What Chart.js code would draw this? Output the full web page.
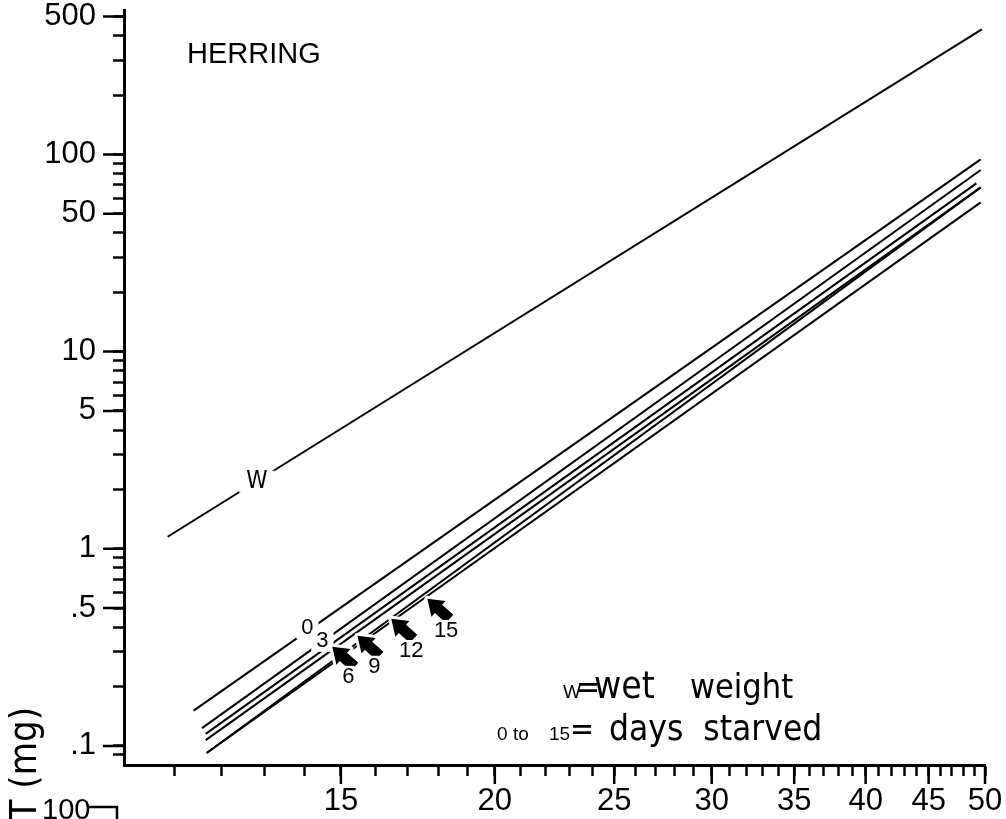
<!DOCTYPE html>
<html>
<head>
<meta charset="utf-8">
<script src="https://cdn.jsdelivr.net/npm/chart.js@4"></script>
<style>
  html, body { margin: 0; padding: 0; background: #fff; }
  #wrap { width: 1006px; height: 819px; position: relative; }
</style>
</head>
<body>
<div id="wrap"><canvas id="myChart"></canvas></div>
<script>
const ctx = document.getElementById("myChart")

// wet weight line (W), read at both ends
const wetLength = [10.85, 49.7]
const wetWeight = [1.15, 431]

// dry weight lines, 0 to 15 days starved, read at both ends
const daysStarved = ['0', '3', '6', '9', '12', '15']
const dryLengthStart = [11.39, 11.57, 11.65, 11.65, 11.67, 11.67]
const dryWeightStart = [0.151, 0.123, 0.115, 0.107, 0.092, 0.092]
const dryLengthEnd = [49.6, 49.6, 49.2, 49.6, 49.6, 49.6]
const dryWeightEnd = [94.3, 83.4, 71.3, 68.0, 68.0, 57.1]

// where the day labels and arrow tips sit (length, weight)
const dayLabelLength = [14.09, 14.49, 15.21, 15.97, 17.11, 18.26]
const dayLabelWeight = [0.397, 0.341, 0.224, 0.252, 0.303, 0.383]
const arrowLength = [null, null, 14.76, 15.47, 16.48, 17.63]
const arrowWeight = [null, null, 0.318, 0.362, 0.441, 0.557]
const wLabelAt = [12.82, 2.19]

// axis ticks
const xLabelTicks = [15, 20, 25, 30, 35, 40, 45, 50]
const xMinorTicks = [11, 12, 13, 14, 16, 17, 18, 19, 21, 22, 23, 24, 26, 27, 28, 29,
  31, 32, 33, 34, 36, 37, 38, 39, 41, 42, 43, 44, 46, 47, 48, 49]
const yLabelTicks = [0.1, 0.5, 1, 5, 10, 50, 100, 500]
const yTickText = ['.1', '.5', '1', '5', '10', '50', '100', '500']
const yMinorTicks = [0.09, 0.2, 0.3, 0.4, 0.6, 0.7, 0.8, 0.9, 2, 3, 4, 6, 7, 8, 9,
  20, 30, 40, 60, 70, 80, 90, 200, 300, 400]

const helv = '"Liberation Sans", Arial, sans-serif'
const avant = '"DejaVu Sans Condensed", "DejaVu Sans", sans-serif'

function boxedText(c, text, x, y, font, pad) {
  c.font = font
  const w = c.measureText(text).width
  c.fillStyle = '#fff'
  c.fillRect(x - w / 2 - pad, y - 11, w + pad * 2, 22)
  c.fillStyle = '#000'
  c.textAlign = 'center'
  c.textBaseline = 'middle'
  c.fillText(text, x, y)
}

function arrow(c, x, y) {
  // tip at x,y, pointing up-left
  c.save()
  c.translate(x, y)
  c.rotate(Math.atan2(-18, -20))
  c.beginPath()
  c.moveTo(0, 0)
  c.lineTo(-15, -10.5)
  c.lineTo(-15, -5.5)
  c.lineTo(-30, -5.5)
  c.lineTo(-30, 5.5)
  c.lineTo(-15, 5.5)
  c.lineTo(-15, 10.5)
  c.closePath()
  c.lineJoin = 'round'
  c.strokeStyle = '#fff'
  c.lineWidth = 6
  c.stroke()
  c.fillStyle = '#000'
  c.fill()
  c.restore()
}

const labelsPlugin = {
  id: 'labels',
  afterDatasetsDraw(chart) {
    const c = chart.ctx
    const xs = chart.scales.x, ys = chart.scales.y
    c.save()
    boxedText(c, 'W', xs.getPixelForValue(wLabelAt[0]), ys.getPixelForValue(wLabelAt[1]), '24px ' + avant, 7)
    daysStarved.forEach((d, i) => {
      if (arrowLength[i] != null) {
        arrow(c, xs.getPixelForValue(arrowLength[i]), ys.getPixelForValue(arrowWeight[i]))
      }
      const pad = i < 2 ? 5 : 0
      boxedText(c, d, xs.getPixelForValue(dayLabelLength[i]), ys.getPixelForValue(dayLabelWeight[i]), '22px ' + helv, pad)
    })
    c.restore()
  },
  afterDraw(chart) {
    const c = chart.ctx
    const a = chart.chartArea
    const xs = chart.scales.x, ys = chart.scales.y
    c.save()
    // longer ticks at the labelled values
    c.strokeStyle = '#000'
    c.lineWidth = 2.5
    c.beginPath()
    xLabelTicks.forEach(v => {
      const p = xs.getPixelForValue(v)
      c.moveTo(p, a.bottom)
      c.lineTo(p, a.bottom + 19)
    })
    yLabelTicks.forEach(v => {
      const p = ys.getPixelForValue(v)
      c.moveTo(a.left, p)
      c.lineTo(a.left - 21, p)
    })
    c.stroke()

    c.fillStyle = '#000'
    c.textBaseline = 'alphabetic'
    c.textAlign = 'left'
    c.font = '29px ' + helv
    c.fillText('HERRING', 187, 63)

    // key
    c.font = '19px ' + helv
    c.fillText('W', 563, 698)
    c.fillText('0', 497, 740)
    c.fillText('to', 513, 740)
    c.fillText('15', 549, 740)
    c.font = '32px ' + avant
    c.fillText('=', 576, 698)
    c.fillText('=', 570, 740)
    c.font = '37px ' + avant
    c.fillText('wet', 594, 698)
    c.font = '34px ' + avant
    c.fillText('weight', 690, 698)
    c.font = '35px ' + avant
    c.fillText('days  starved', 609, 740)

    // axis title, mostly cut off by the page edge
    c.save()
    c.translate(36, 707)
    c.rotate(-Math.PI / 2)
    c.textAlign = 'right'
    c.font = '38px ' + avant
    c.fillText('WEIGHT (mg)', 0, 0)
    c.restore()

    // top of the next panel below
    c.font = '29px ' + helv
    c.fillText('100', 42, 819)
    c.lineWidth = 2.5
    c.beginPath()
    c.moveTo(88, 807)
    c.lineTo(117, 807)
    c.lineTo(117, 819)
    c.stroke()
    c.restore()
  }
}

const lineStyle = { showLine: true, borderColor: '#000', borderWidth: 2, pointRadius: 0, fill: false }
const datasets = [Object.assign({
  label: 'W',
  data: wetLength.map((l, i) => ({ x: l, y: wetWeight[i] }))
}, lineStyle)]
daysStarved.forEach((d, i) => {
  datasets.push(Object.assign({
    label: d,
    data: [{ x: dryLengthStart[i], y: dryWeightStart[i] }, { x: dryLengthEnd[i], y: dryWeightEnd[i] }]
  }, lineStyle))
})

let myChart = new Chart(ctx, {
  type: 'scatter',
  data: { datasets: datasets },
  options: {
    responsive: true,
    maintainAspectRatio: false,
    animation: false,
    layout: { padding: { top: 10, right: 21, bottom: 0, left: 0 } },
    plugins: { legend: { display: false }, tooltip: { enabled: false } },
    scales: {
      x: {
        type: 'logarithmic',
        min: 10,
        max: 50,
        afterBuildTicks: s => {
          s.ticks = xMinorTicks.concat(xLabelTicks).sort((a, b) => a - b).map(v => ({ value: v }))
        },
        afterFit: s => { s.height = 54; s.paddingLeft = 0; s.paddingRight = 0 },
        border: { color: '#000', width: 3 },
        grid: { drawOnChartArea: false, tickLength: 11, tickColor: '#000', tickWidth: 2.5 },
        ticks: {
          autoSkip: false, maxRotation: 0, padding: 7, color: '#000',
          font: { family: helv, size: 31 },
          callback: v => xLabelTicks.includes(v) ? String(v) : ''
        }
      },
      y: {
        type: 'logarithmic',
        min: 0.08,
        max: 540,
        afterBuildTicks: s => {
          s.ticks = yMinorTicks.concat(yLabelTicks).sort((a, b) => a - b).map(v => ({ value: v }))
        },
        afterFit: s => { s.width = 124; s.paddingTop = 0; s.paddingBottom = 0 },
        border: { color: '#000', width: 3 },
        grid: { drawOnChartArea: false, tickLength: 11, tickColor: '#000', tickWidth: 2.5 },
        ticks: {
          autoSkip: false, padding: 17, color: '#000',
          font: { family: helv, size: 31 },
          callback: v => {
            const k = yLabelTicks.indexOf(v)
            return k >= 0 ? yTickText[k] : ''
          }
        }
      }
    }
  },
  plugins: [labelsPlugin]
});
</script>
</body>
</html>
